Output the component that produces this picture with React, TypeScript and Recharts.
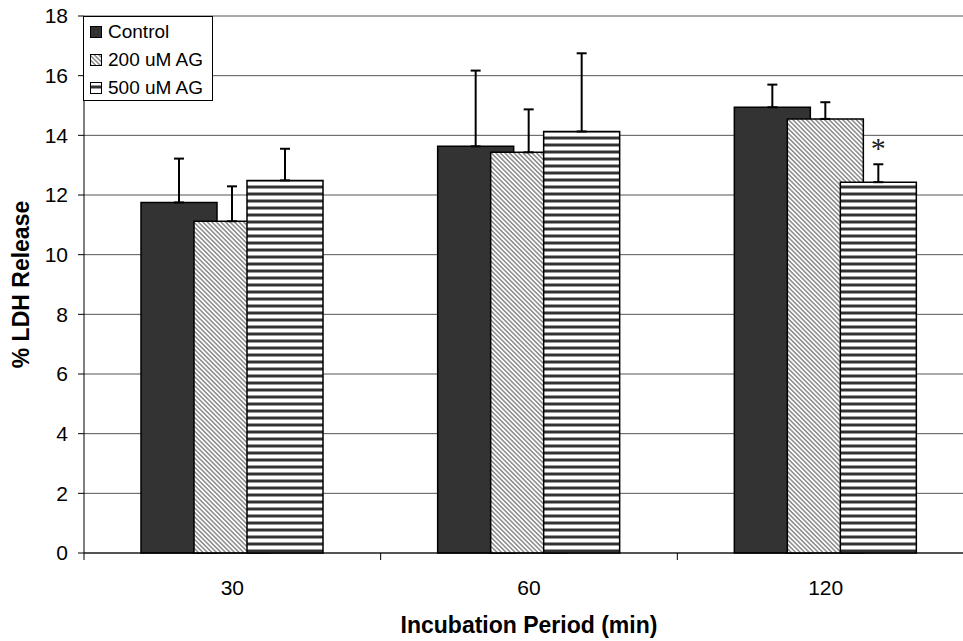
import React from 'react';
import { BarChart, Bar, XAxis, YAxis, CartesianGrid, ErrorBar, LabelList, Legend } from 'recharts';

const categories = ['30', '60', '120'];
const control = [11.75, 13.63, 14.94];
const controlErr = [1.47, 2.54, 0.76];
const ag200 = [11.12, 13.43, 14.55];
const ag200Err = [1.17, 1.44, 0.56];
const ag500 = [12.49, 14.13, 12.43];
const ag500Err = [1.06, 2.62, 0.6];
const significance = ['', '', '*'];
const yTicks = [0, 2, 4, 6, 8, 10, 12, 14, 16, 18];
const seriesNames = ['Control', '200 uM AG', '500 uM AG'];

const data = categories.map((c, i) => ({
  period: c,
  control: control[i],
  controlErr: [0, controlErr[i]],
  ag200: ag200[i],
  ag200Err: [0, ag200Err[i]],
  ag500: ag500[i],
  ag500Err: [0, ag500Err[i]],
  star: significance[i],
}));

const FONT = '"Liberation Sans", Arial, sans-serif';

const XTick = (props: any) => {
  const { x, y, payload } = props;
  const off = payload && typeof payload.offset === 'number' ? payload.offset : 0;
  return (
    <g>
      <line x1={x - off} x2={x - off} y1={y} y2={y + 7} stroke="#000" strokeWidth={1} />
      <text x={x} y={y + 42} textAnchor="middle" fontSize={21} fontFamily={FONT} fill="#000">
        {payload.value}
      </text>
    </g>
  );
};

const DiagSwatch = () => (
  <svg width={12} height={12} style={{ display: 'block' }}>
    <defs>
      <pattern id="lgdiag" patternUnits="userSpaceOnUse" width={3.2} height={3.2} patternTransform="rotate(45)">
        <rect width={3.2} height={3.2} fill="#fff" />
        <rect width={3.2} height={1.5} fill="#8a8a8a" />
      </pattern>
    </defs>
    <rect x={0.5} y={0.5} width={11} height={11} fill="url(#lgdiag)" stroke="#000" strokeWidth={1} />
  </svg>
);

const HorizSwatch = () => (
  <svg width={12} height={12} style={{ display: 'block' }}>
    <rect x={0.5} y={0.5} width={11} height={11} fill="#fff" stroke="#000" strokeWidth={1} />
    <rect x={1} y={4} width={10} height={2} fill="#333" />
    <rect x={1} y={3} width={10} height={1} fill="#999" />
    <rect x={1} y={6} width={10} height={1} fill="#999" />
  </svg>
);

const SolidSwatch = () => (
  <svg width={12} height={12} style={{ display: 'block' }}>
    <rect x={0.5} y={0.5} width={11} height={11} fill="#333" stroke="#000" strokeWidth={1} />
  </svg>
);

const LegendBox = () => {
  const swatches = [<SolidSwatch />, <DiagSwatch />, <HorizSwatch />];
  return (
    <div
      style={{
        border: '1px solid #000',
        background: '#fff',
        width: 128,
        height: 82,
        boxSizing: 'content-box',
        paddingTop: 1,
        fontFamily: FONT,
        fontSize: 19,
        color: '#000',
      }}
    >
      {seriesNames.map((n, i) => (
        <div key={n} style={{ display: 'flex', alignItems: 'center', height: 28, paddingLeft: 6 }}>
          {swatches[i]}
          <span style={{ marginLeft: 6, whiteSpace: 'nowrap' }}>{n}</span>
        </div>
      ))}
    </div>
  );
};

const Star = (props: any) => {
  const { x, y, width, value } = props;
  if (!value) return null;
  return (
    <text x={x + width / 2} y={y - 24} textAnchor="middle" fontSize={30} fontFamily='"Liberation Serif", "Times New Roman", serif' fill="#222">
      {value}
    </text>
  );
};

export default function App() {
  return (
    <div style={{ position: 'absolute', left: 0, top: 0, width: 963, height: 641, overflow: 'hidden', background: '#fff' }}>
      <BarChart
        width={980}
        height={641}
        data={data}
        margin={{ top: 16, right: 6, left: 0, bottom: 0 }}
        barSize={76}
        barGap={-23}
        barCategoryGap={57}
      >
        <defs>
          <pattern id="diag" patternUnits="userSpaceOnUse" width={3.2} height={3.2} patternTransform="rotate(45)">
            <rect width={3.2} height={3.2} fill="#fff" />
            <rect width={3.2} height={1.5} fill="#8a8a8a" />
          </pattern>
          <pattern id="horiz" patternUnits="userSpaceOnUse" width={8} height={7}>
            <rect width={8} height={7} fill="#fff" />
            <rect y={3} width={8} height={1} fill="#9a9a9a" />
            <rect y={4} width={8} height={2} fill="#333" />
            <rect y={6} width={8} height={1} fill="#9a9a9a" />
          </pattern>
        </defs>
        <CartesianGrid vertical={false} stroke="#555" strokeWidth={1} />
        <XAxis
          dataKey="period"
          axisLine={{ stroke: '#000', strokeWidth: 1 }}
          tickLine={false}
          tickSize={0}
          tickMargin={0}
          height={88}
          interval={0}
          tick={<XTick />}
          label={(p: any) => {
            const vb = p.viewBox || {};
            return (
              <text
                x={vb.x + vb.width / 2}
                y={vb.y + 80}
                textAnchor="middle"
                fontSize={23}
                fontWeight="bold"
                fontFamily={FONT}
                fill="#000"
              >
                Incubation Period (min)
              </text>
            );
          }}
        />
        <YAxis
          width={84}
          domain={[0, 18]}
          ticks={yTicks}
          interval={0}
          axisLine={{ stroke: '#000', strokeWidth: 1 }}
          tickLine={{ stroke: '#000', strokeWidth: 1 }}
          tickSize={6}
          tickMargin={10}
          tick={{ fontSize: 21, fill: '#000', fontFamily: FONT }}
          label={(p: any) => {
            const vb = p.viewBox || {};
            const cx = 21;
            const cy = vb.y + vb.height / 2;
            return (
              <text
                x={cx}
                y={cy}
                transform={`rotate(-90, ${cx}, ${cy})`}
                textAnchor="middle"
                dominantBaseline="central"
                fontSize={23}
                fontWeight="bold"
                fontFamily={FONT}
                fill="#000"
              >
                % LDH Release
              </text>
            );
          }}
        />
        <Legend
          layout="vertical"
          align="center"
          verticalAlign="middle"
          content={<LegendBox />}
          wrapperStyle={{ left: 83, top: 16, width: 130, height: 84 }}
        />
        <Bar dataKey="control" name="Control" fill="#333" stroke="#000" strokeWidth={1.5} isAnimationActive={false}>
          <ErrorBar dataKey="controlErr" direction="y" width={5} stroke="#000" strokeWidth={2} isAnimationActive={false} />
        </Bar>
        <Bar dataKey="ag200" name="200 uM AG" fill="url(#diag)" stroke="#000" strokeWidth={1.5} isAnimationActive={false}>
          <ErrorBar dataKey="ag200Err" direction="y" width={5} stroke="#000" strokeWidth={2} isAnimationActive={false} />
        </Bar>
        <Bar dataKey="ag500" name="500 uM AG" fill="url(#horiz)" stroke="#000" strokeWidth={1.5} isAnimationActive={false}>
          <ErrorBar dataKey="ag500Err" direction="y" width={5} stroke="#000" strokeWidth={2} isAnimationActive={false} />
          <LabelList dataKey="star" content={<Star />} />
        </Bar>
      </BarChart>
    </div>
  );
}
